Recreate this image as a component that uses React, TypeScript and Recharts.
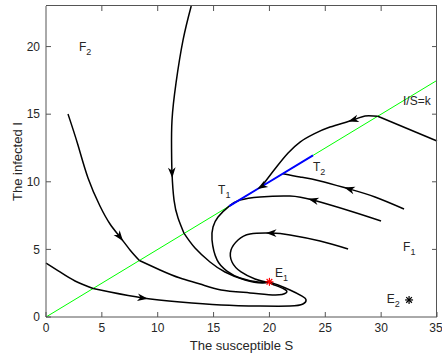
import { ComposedChart, Line, Scatter, XAxis, YAxis } from 'recharts';

interface Pt {
    S: number,
    I: number
}

// tick values
const sTicks = [0, 5, 10, 15, 20, 25, 30, 35];
const iTicks = [0, 5, 10, 15, 20];

// switching line I/S = k (k = 0.5) and the sliding segment T1-T2
const switchLine = [[0, 0], [35, 17.5]];
const slidingSeg = [[23.9, 11.95], [19.3, 9.65], [16.4, 8.2]];

// trajectories, split where they cross the switching line
const orbitA1 = [[0, 3.99], [1.25, 3.33], [2.6, 2.66], [4.22, 2.11]];
const orbitA2 = [[4.22, 2.11], [5.73, 1.85], [8.68, 1.41], [12.0, 1.11], [15.67, 0.89], [19.16, 0.81], [21.84, 0.81], [23.0, 0.96], [23.28, 1.26], [22.92, 1.55], [21.84, 2.0], [20.77, 2.37], [20, 2.6]];
const orbitB1 = [[1.97, 15.01], [2.86, 12.72], [3.76, 10.28], [4.83, 8.21], [5.73, 6.88], [6.62, 5.92], [7.52, 4.96], [8.36, 4.18]];
const orbitB2 = [[8.36, 4.18], [10.21, 3.48], [12.0, 2.88], [13.79, 2.44], [15.67, 2.0], [18.26, 1.78], [20.5, 1.63], [21.49, 1.78], [21.31, 2.07], [20.24, 2.44], [20, 2.6]];
const orbitC1 = [[13.0, 23.0], [12.27, 20.49], [11.64, 17.31], [11.28, 14.57], [11.24, 12.35], [11.28, 10.65], [11.46, 8.65], [11.82, 7.32], [12.36, 6.18]];
const orbitC2 = [[12.36, 6.18], [13.34, 5.1], [14.68, 4.07], [16.02, 3.33], [17.82, 2.74], [19.34, 2.51], [20, 2.6]];
const orbitD = [[29.99, 7.1], [27.22, 7.84], [23.9, 8.65], [21.84, 8.95], [19.16, 8.88], [17.37, 8.65], [16.4, 8.2], [15.4, 7.4], [14.95, 6.66], [14.86, 5.7], [15.31, 4.22], [16.2, 3.4], [17.37, 2.88], [18.98, 2.59], [20, 2.6]];
const orbitH = [[27.04, 5.03], [24.53, 5.62], [21.84, 6.07], [20.14, 6.21], [18.26, 6.14], [17.19, 5.7], [16.56, 4.96], [16.65, 4.07], [17.46, 3.33], [18.71, 2.81], [19.7, 2.59], [20, 2.6]];
const orbitF = [[32.05, 7.99], [29.45, 8.88], [27.13, 9.47], [24.53, 10.06], [22.74, 10.36], [21.2, 10.6]];
const orbitE1 = [[35, 13.02], [29.7, 14.85]];
const orbitE2 = [[29.7, 14.85], [28.56, 14.87], [27.48, 14.57], [25.42, 14.05], [23.99, 13.54], [22.74, 12.94], [21.67, 12.13], [20.77, 11.24], [19.87, 10.28], [19.3, 9.65]];

// where the direction arrows sit: [orbit, point index]
const arrowMarks: [number[][], number][] = [
    [orbitA2, 2], [orbitB1, 5], [orbitC1, 5], [orbitD, 2],
    [orbitH, 3], [orbitF, 2], [orbitE2, 2], [slidingSeg, 1],
];

// equilibria
const pointE1 = [[20, 2.6]];
const pointE2 = [[32.5, 1.26]];

// text labels: main, subscript, S, I
const notes: [string, string, number, number][] = [
    ['F', '2', 2.95, 19.7],
    ['F', '1', 31.96, 4.9],
    ['E', '1', 20.5, 2.97],
    ['E', '2', 30.5, 1.04],
    ['T', '1', 15.4, 9.07],
    ['T', '2', 23.9, 10.78],
    ['I/S=k', '', 31.96, 15.7],
];

const W = 442;
const H = 356;
const PLOT_W = 391;
const PLOT_H = 311;
const S_MAX = 35;
const I_MAX = 23;

const toPts = (arr: number[][]): Pt[] => arr.map(([S, I]) => ({ S, I }));

// inward ticks along the top and right edges
const topTicks = sTicks.slice(1, -1).map(t => ({ S: t, I: I_MAX }));
const rightTicks = iTicks.slice(1).map(t => ({ S: S_MAX, I: t }));

const arrowData = arrowMarks.map(([orbit, k]) => {
    const p = orbit[Math.max(k - 1, 0)];
    const n = orbit[Math.min(k + 1, orbit.length - 1)];
    const dx = (n[0] - p[0]) * PLOT_W / S_MAX;
    const dy = -(n[1] - p[1]) * PLOT_H / I_MAX;
    return { S: orbit[k][0], I: orbit[k][1], angle: Math.atan2(dy, dx) * 180 / Math.PI };
});

const noteData = notes.map(([text, sub, S, I]) => ({ S, I, text, sub }));

const AXIS = '#555';

const renderArrow = (props: any) => {
    const { cx, cy, payload } = props;
    return (
        <path
            transform={`translate(${cx},${cy}) rotate(${payload.angle})`}
            d="M5,0 L-5.5,-3.8 L-2.5,0 L-5.5,3.8 Z"
            fill="#000"
        />
    );
};

const makeAsterisk = (color: string) => (props: any) => {
    const { cx, cy } = props;
    const r = 4;
    const d = r * 0.707;
    return (
        <g stroke={color} strokeWidth={1.2}>
            <line x1={cx - r} y1={cy} x2={cx + r} y2={cy} />
            <line x1={cx} y1={cy - r} x2={cx} y2={cy + r} />
            <line x1={cx - d} y1={cy - d} x2={cx + d} y2={cy + d} />
            <line x1={cx - d} y1={cy + d} x2={cx + d} y2={cy - d} />
        </g>
    );
};

const renderTopTick = (props: any) => (
    <line x1={props.cx} y1={props.cy} x2={props.cx} y2={props.cy + 5} stroke={AXIS} />
);
const renderRightTick = (props: any) => (
    <line x1={props.cx} y1={props.cy} x2={props.cx - 5} y2={props.cy} stroke={AXIS} />
);

const renderNote = (props: any) => {
    const { cx, cy, payload } = props;
    return (
        <text x={cx} y={cy} fontSize={12} fill="#262626" fontFamily="Liberation Sans, Arial, sans-serif">
            <tspan>{payload.text}</tspan>
            {payload.sub && <tspan dy={4} fontSize={9}>{payload.sub}</tspan>}
        </text>
    );
};

const orbits = [orbitA1, orbitA2, orbitB1, orbitB2, orbitC1, orbitC2, orbitD, orbitH, orbitF, orbitE1, orbitE2];

const App = () => {
    return (
        <div style={{ position: 'absolute', left: 0, top: 0, width: W, height: H, fontFamily: 'Liberation Sans, Arial, sans-serif' }}>
            <ComposedChart width={W} height={H} margin={{ top: 6, right: 5, bottom: 0, left: 0 }}>
                <XAxis
                    type="number"
                    dataKey="S"
                    domain={[0, S_MAX]}
                    ticks={sTicks}
                    height={39}
                    stroke={AXIS}
                    tickSize={-5}
                    tickMargin={11}
                    tick={{ fill: '#262626', fontSize: 12 }}
                    label={{ value: 'The susceptible S', position: 'insideBottom', offset: 6, fill: '#262626', fontSize: 13 }}
                />
                <YAxis
                    type="number"
                    domain={[0, I_MAX]}
                    ticks={iTicks}
                    width={46}
                    stroke={AXIS}
                    tickSize={-5}
                    tickMargin={11}
                    tick={{ fill: '#262626', fontSize: 12 }}
                    label={{ value: 'The infected I', angle: -90, position: 'insideLeft', offset: 17, fill: '#262626', fontSize: 13, style: { textAnchor: 'middle' } }}
                />

                <Scatter data={topTicks} dataKey="I" shape={renderTopTick} isAnimationActive={false} />
                <Scatter data={rightTicks} dataKey="I" shape={renderRightTick} isAnimationActive={false} />

                <Line data={toPts(switchLine)} dataKey="I" type="linear" stroke="#00ff00" strokeWidth={1}
                    dot={false} activeDot={false} isAnimationActive={false} />
                {orbits.map((o, i) => (
                    <Line key={i} data={toPts(o)} dataKey="I" type="natural" stroke="#000" strokeWidth={1.5}
                        dot={false} activeDot={false} isAnimationActive={false} />
                ))}
                <Line data={toPts(slidingSeg)} dataKey="I" type="linear" stroke="#0000ff" strokeWidth={2}
                    dot={false} activeDot={false} isAnimationActive={false} />
                <Scatter data={arrowData} dataKey="I" shape={renderArrow} isAnimationActive={false} />
                <Scatter data={toPts(pointE1)} dataKey="I" shape={makeAsterisk('#ff0000')} isAnimationActive={false} />
                <Scatter data={toPts(pointE2)} dataKey="I" shape={makeAsterisk('#000')} isAnimationActive={false} />
                <Scatter data={noteData} dataKey="I" shape={renderNote} isAnimationActive={false} />
            </ComposedChart>
            {/* top and right edges of the MATLAB-style box */}
            <div style={{
                position: 'absolute', left: 46, top: 5, width: 391, height: 312,
                borderTop: `1px solid ${AXIS}`, borderRight: `1px solid ${AXIS}`,
                boxSizing: 'border-box', pointerEvents: 'none', zIndex: 10,
            }} />
        </div>
    );
};

export default App;
